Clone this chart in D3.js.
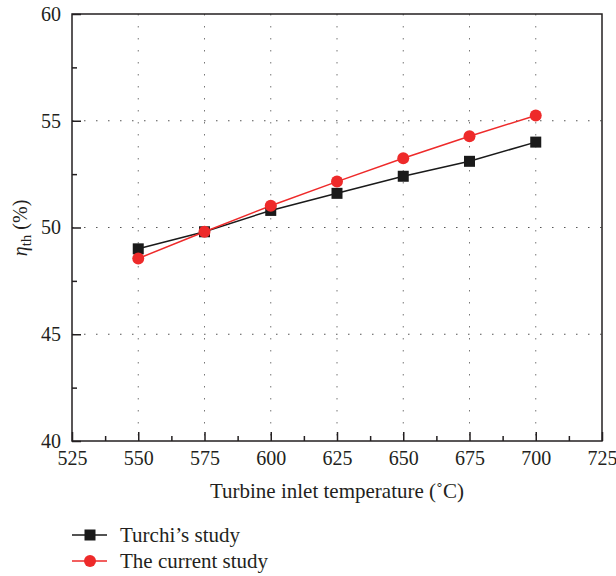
<!DOCTYPE html>
<html><head><meta charset="utf-8">
<script src="https://cdn.jsdelivr.net/npm/d3@7/dist/d3.min.js"></script>
<style>body{margin:0;background:#fff}svg{display:block}text{font-family:"Liberation Serif","DejaVu Serif",serif;fill:#231f20}</style>
</head><body>
<script>
const temps = [550, 575, 600, 625, 650, 675, 700];
const turchi = [49.0, 49.8, 50.8, 51.6, 52.4, 53.1, 54.0];
const current = [48.55, 49.8, 51.02, 52.15, 53.24, 54.27, 55.25];
const xTicks = [525, 550, 575, 600, 625, 650, 675, 700, 725];
const yTicks = [40, 45, 50, 55, 60];
const seriesNames = ["Turchi\u2019s study", "The current study"];

const W = 616, H = 576;
const svg = d3.select("body").append("svg").attr("width", W).attr("height", H);
const L = 72, R = 602, T = 14, B = 441;
const x = d3.scaleLinear().domain([525, 725]).range([L, R]);
const y = d3.scaleLinear().domain([40, 60]).range([B, T]);

// grid
const g = svg.append("g");
g.selectAll(".vg").data([550,575,600,625,650,675,700]).enter().append("line")
  .attr("x1", d => x(d)).attr("x2", d => x(d)).attr("y1", T).attr("y2", B)
  .attr("stroke", "#777").attr("stroke-width", 1).attr("stroke-dasharray", "1.5,10.5");
g.selectAll(".hg").data([45,50,55]).enter().append("line")
  .attr("y1", d => y(d)).attr("y2", d => y(d)).attr("x1", L).attr("x2", R)
  .attr("stroke", "#555").attr("stroke-width", 1.2).attr("stroke-dasharray", "1.5,10.5");

// frame
svg.append("rect").attr("x", L).attr("y", T).attr("width", R - L).attr("height", B - T)
  .attr("fill", "none").attr("stroke", "#231f20").attr("stroke-width", 1.5);

// axes
const xAx = svg.append("g").attr("transform", `translate(0,${B})`)
  .call(d3.axisBottom(x).tickValues(xTicks).tickSize(-9).tickFormat(d3.format("d")));
const xMin = svg.append("g").attr("transform", `translate(0,${B})`)
  .call(d3.axisBottom(x).tickValues(d3.range(537.5, 725, 25)).tickSize(-5).tickFormat(""));
const yAx = svg.append("g").attr("transform", `translate(${L},0)`)
  .call(d3.axisLeft(y).tickValues(yTicks).tickSize(-9));
const yMin = svg.append("g").attr("transform", `translate(${L},0)`)
  .call(d3.axisLeft(y).tickValues([42.5,47.5,52.5,57.5]).tickSize(-5).tickFormat(""));
[xAx, xMin, yAx, yMin].forEach(a => {
  a.select(".domain").remove();
  a.selectAll("line").attr("stroke", "#231f20").attr("stroke-width", 1.5);
  a.selectAll("text").attr("font-size", 20).attr("font-family", "Liberation Serif, serif").attr("fill", "#231f20");
});
xAx.selectAll("text").attr("dy", "0.71em").attr("y", 10);
yAx.selectAll("text").attr("x", -11).attr("dy", "0.32em");

// titles
svg.append("text").attr("x", 337).attr("y", 498).attr("text-anchor", "middle").attr("font-size", 21)
  .text("Turbine inlet temperature (\u02DAC)");
const yl = svg.append("text").attr("transform", "translate(27,228) rotate(-90)").attr("text-anchor", "middle").attr("font-size", 20);
yl.append("tspan").attr("font-style", "italic").text("\u03B7");
yl.append("tspan").attr("font-size", 15).attr("dy", 4).text("th");
yl.append("tspan").attr("dy", -4).text(" (%)");

// series
const line = d3.line().x((d, i) => x(temps[i])).y(d => y(d));
const black = "#1a1a1a", red = "#ee2a2a";
svg.append("path").datum(turchi).attr("d", line).attr("fill", "none").attr("stroke", black).attr("stroke-width", 1.5);
svg.append("path").datum(current).attr("d", line).attr("fill", "none").attr("stroke", red).attr("stroke-width", 1.5);
svg.selectAll(".sq").data(turchi).enter().append("rect")
  .attr("x", (d, i) => x(temps[i]) - 5.5).attr("y", d => y(d) - 5.5).attr("width", 11).attr("height", 11).attr("fill", black);
svg.selectAll(".ci").data(current).enter().append("circle")
  .attr("cx", (d, i) => x(temps[i])).attr("cy", d => y(d)).attr("r", 6).attr("fill", red);

// legend
const leg = [{c: black, shape: "sq", yy: 535}, {c: red, shape: "ci", yy: 561}];
leg.forEach((l, i) => {
  svg.append("line").attr("x1", 72).attr("x2", 107).attr("y1", l.yy).attr("y2", l.yy).attr("stroke", l.c).attr("stroke-width", 1.5);
  if (l.shape === "sq") svg.append("rect").attr("x", 84.5).attr("y", l.yy - 5.5).attr("width", 11).attr("height", 11).attr("fill", l.c);
  else svg.append("circle").attr("cx", 90).attr("cy", l.yy).attr("r", 6).attr("fill", l.c);
  svg.append("text").attr("x", 120).attr("y", l.yy).attr("dy", "0.32em").attr("font-size", 21).text(seriesNames[i]);
});
</script>
</body></html>
